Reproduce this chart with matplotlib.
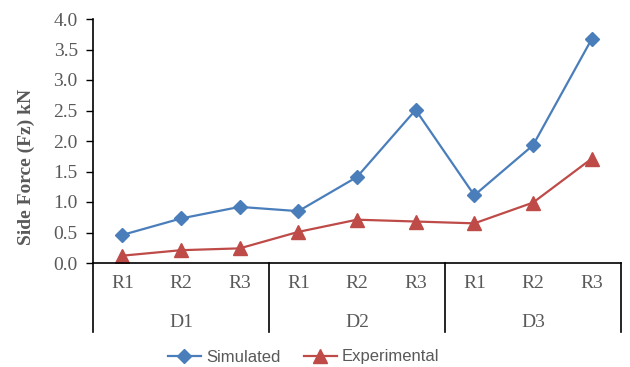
import matplotlib.pyplot as plt
import matplotlib.transforms as mtransforms

groups = ["D1", "D2", "D3"]
sub_labels = ["R1", "R2", "R3"]
simulated = [0.46, 0.73, 0.92, 0.85, 1.41, 2.51, 1.11, 1.93, 3.67]
experimental = [0.12, 0.21, 0.24, 0.51, 0.71, 0.68, 0.65, 0.99, 1.71]

blue = "#4A7EBB"
red = "#BE4B48"
grey = "#595959"
serif = ["Liberation Serif", "DejaVu Serif"]

fig = plt.figure(figsize=(6.3, 3.67), dpi=100)
ax = fig.add_axes([93 / 630, 1 - 263 / 367, 528 / 630, 244 / 367])

x = list(range(len(simulated)))
ax.plot(x, simulated, color=blue, marker="D", markersize=7, linewidth=1.6, label="Simulated")
ax.plot(x, experimental, color=red, marker="^", markersize=10, linewidth=1.6, label="Experimental")

ax.set_xlim(-0.5, len(x) - 0.5)
ax.set_ylim(0, 4.0)
ax.set_yticks([i * 0.5 for i in range(9)])
ax.set_yticklabels([f"{i * 0.5:.1f}" for i in range(9)], fontfamily=serif, fontsize=14, color=grey)
ax.tick_params(axis="y", direction="out", length=5, width=1, color="black", pad=6)
ax.set_xticks([])

for s in ["top", "right"]:
    ax.spines[s].set_visible(False)
ax.spines["left"].set_linewidth(1.2)
ax.spines["bottom"].set_linewidth(1.2)

# y label sits a bit below the axes centre, as in the original
fig.text(26 / 630, 1 - 167 / 367, "Side Force (Fz) kN", rotation=90, ha="center", va="center",
         fontfamily=serif, fontsize=14, fontweight="bold", color=grey)

trans = mtransforms.blended_transform_factory(ax.transData, ax.transAxes)
for gi, g in enumerate(groups):
    for si, s in enumerate(sub_labels):
        ax.text(gi * 3 + si, -0.082, s, transform=trans, ha="center", va="center",
                fontfamily=serif, fontsize=14, color=grey)
    ax.text(gi * 3 + 1, -0.242, g, transform=trans, ha="center", va="center",
            fontfamily=serif, fontsize=14, color=grey)
for b in range(len(groups) + 1):
    ax.plot([b * 3 - 0.5, b * 3 - 0.5], [0, -0.283], transform=trans, color="black",
            linewidth=1.2, clip_on=False)

fig.legend(loc="center", bbox_to_anchor=(0.482, 1 - 357 / 367), ncol=2, frameon=False,
           labelcolor=grey, handlelength=2.0, handletextpad=0.3, columnspacing=1.4,
           prop={"family": ["Liberation Sans", "DejaVu Sans"], "size": 12})

fig.savefig("out.png", dpi=100)
